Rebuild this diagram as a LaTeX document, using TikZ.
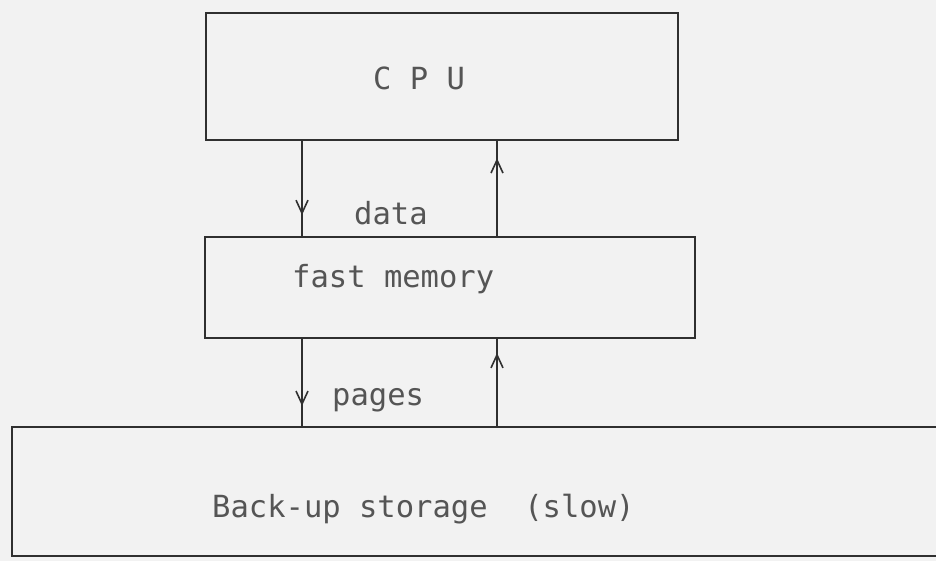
\documentclass[tikz,border=0pt]{standalone}
\usepackage{fontspec}
\setmonofont{DejaVu Sans Mono}
\usetikzlibrary{arrows.meta,decorations.markings}
\definecolor{paper}{HTML}{F2F2F2}
\definecolor{ink}{HTML}{303030}
\definecolor{typeink}{HTML}{555555}
\tikzset{
  box/.style={draw=ink, line width=2.2pt, rectangle, inner sep=0pt},
  lbl/.style={inner sep=0pt, text=typeink, font=\ttfamily\fontsize{30.5}{30.5}\selectfont},
  flow/.style={draw=ink, line width=1.9pt},
  midarrow/.style={postaction={decorate}, decoration={markings,
     mark=at position #1 with {\arrow[ink, line width=1.6pt]{Straight Barb[length=13pt, width=12pt]}}}}
}
\begin{document}
\begin{tikzpicture}[x=1pt,y=-1pt]
\fill[paper] (0,0) rectangle (936,561);
\useasboundingbox (0,0) rectangle (936,561);
\clip (0,0) rectangle (936,561);

\node[box, minimum width=472pt, minimum height=127pt] (cpu) at (442,76.5) {};
\node[box, minimum width=490pt, minimum height=101pt] (mem) at (450,287.5) {};
\node[box, minimum width=940pt, minimum height=129pt] (store) at (482,491.5) {};

\node[lbl, anchor=base west] (cputxt) at (373,90) {C P U};
\node[lbl, anchor=base west] (memtxt) at (292,287) {fast memory};
\node[lbl, anchor=base west] (storetxt) at (212,517) {Back-up storage\ \ (slow)};
\node[lbl, anchor=base west] (datatxt) at (354,225) {data};
\node[lbl, anchor=base west] (pagestxt) at (332,405) {pages};

\coordinate (lx) at (302,0);
\coordinate (rx) at (497,0);

\draw[flow, midarrow=0.78] (cpu.south -| lx) -- (mem.north -| lx);
\draw[flow, midarrow=0.82] (mem.north -| rx) -- (cpu.south -| rx);
\draw[flow, midarrow=0.77] (mem.south -| lx) -- (store.north -| lx);
\draw[flow, midarrow=0.84] (store.north -| rx) -- (mem.south -| rx);
\end{tikzpicture}
\end{document}
